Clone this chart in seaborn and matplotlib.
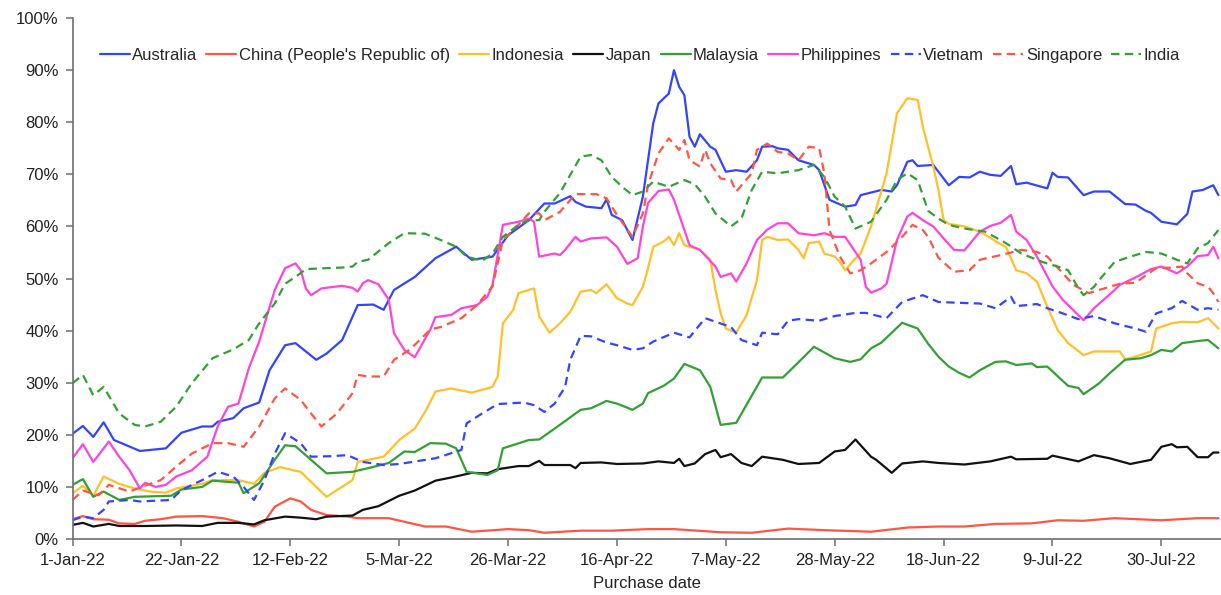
import matplotlib
matplotlib.use("Agg")
import matplotlib.pyplot as plt
import seaborn as sns
import pandas as pd
import numpy as np
from matplotlib.ticker import FuncFormatter

# ---------------- data (day offset from 1-Jan-22, share in %) ----------------
START = "2022-01-01"

australia = [(0,20.2),(2,21.7),(4,19.6),(6,22.4),(8,19.0),(13,16.9),(18,17.4),(21,20.4),(25,21.6),(27,21.6),
             (28,22.5),(31,23.2),(33,25.1),(36,26.2),(38,32.4),(41,37.2),(43,37.6),(47,34.4),(49,35.6),(52,38.2),
             (55,44.9),(58,45.0),(60,44.0),(62,47.8),(66,50.3),(70,53.9),(74,56.1),(77,53.6),(81,54.2),(84,58.3),
             (88,61.2),(91,64.4),(93,64.4),(96,65.8),(97,64.7),(99,63.8),(102,63.5),(103,65.2),(104,62.2),(106,61.2),
             (108,57.4),(110,65.7),(112,79.8),(113,83.6),(115,85.5),(116,90.0),(117,86.8),(118,85.2),(119,77.2),(120,75.3),
             (121,77.7),(123,75.3),(124,74.7),(126,70.5),(128,70.8),(130,70.5),(132,72.7),(133,75.3),(135,75.4),(136,75.0),
             (138,74.7),(140,72.7),(143,71.8),(144,70.8),(146,65.1),(149,63.8),(151,64.1),(152,66.0),(156,67.0),(158,66.7),
             (159,67.9),(161,72.4),(162,72.7),(163,71.6),(166,71.8),(169,67.9),(171,69.5),(173,69.4),(175,70.5),(177,69.9),
             (179,69.7),(181,71.6),(182,68.1),(184,68.4),(188,67.3),(189,70.3),(190,69.5),(192,69.4),(195,66.0),(197,66.7),
             (200,66.7),(203,64.3),(205,64.2),(207,63.0),(208,62.6),(210,60.9),(213,60.4),(215,62.4),(216,66.7),(218,67.0),
             (220,67.9),(221,66.0)]

china = [(0,3.8),(2,4.4),(4,3.8),(7,3.7),(9,3.0),(12,2.9),(14,3.5),(17,3.8),(20,4.3),(25,4.4),(29,4.0),(32,3.3),
         (35,2.4),(37,3.3),(39,6.2),(42,7.8),(44,7.2),(46,5.6),(49,4.6),(53,4.3),(55,4.0),(61,4.0),(68,2.4),(72,2.4),
         (77,1.4),(84,1.9),(88,1.7),(91,1.2),(98,1.6),(104,1.6),(111,1.9),(116,1.9),(125,1.3),(131,1.2),(138,2.0),
         (145,1.7),(154,1.4),(161,2.2),(167,2.4),(172,2.4),(178,2.9),(185,3.0),(190,3.6),(195,3.5),(201,4.0),(210,3.6),
         (217,4.0),(221,4.0)]

indonesia = [(0,8.8),(2,10.2),(4,8.3),(6,12.0),(9,10.6),(12,9.7),(15,9.1),(18,8.9),(20,9.7),(25,10.6),(27,11.3),
             (32,11.3),(35,10.6),(37,12.7),(40,13.8),(44,12.9),(47,10.0),(49,8.1),(51,9.4),(54,11.3),(55,14.8),(60,15.8),
             (63,19.0),(66,21.2),(68,24.4),(70,28.3),(73,28.9),(77,28.1),(81,29.2),(82,31.2),(83,41.4),(85,44.0),(86,47.2),
             (89,48.1),(90,42.7),(92,39.6),(94,41.4),(96,43.6),(98,47.5),(100,47.8),(101,47.2),(103,48.9),(105,46.2),
             (107,45.2),(108,44.9),(110,48.4),(111,52.0),(112,56.1),(114,57.1),(115,58.0),(116,56.4),(117,58.7),(118,56.4),
             (120,55.8),(121,55.5),(123,53.6),(124,47.8),(125,43.3),(126,40.4),(128,39.6),(130,43.0),(132,49.7),(133,57.4),
             (134,58.0),(136,57.4),(138,57.5),(140,55.5),(141,53.9),(142,56.8),(144,57.1),(145,54.8),(147,54.2),(148,53.2),
             (149,51.6),(151,53.9),(152,54.8),(154,60.0),(157,70.2),(159,81.7),(161,84.6),(163,84.3),(164,79.1),(166,71.5),
             (167,67.0),(168,61.2),(169,60.5),(172,60.0),(175,59.0),(179,56.6),(180,56.1),(182,51.6),(184,51.0),(186,49.4),
             (188,44.6),(190,40.1),(192,37.6),(195,35.3),(197,36.0),(200,36.0),(202,36.0),(203,34.5),(205,35.0),(208,36.0),
             (209,40.4),(212,41.4),(214,41.7),(217,41.6),(219,42.4),(221,40.4)]

japan = [(0,2.7),(2,3.1),(4,2.4),(7,2.9),(9,2.5),(14,2.5),(20,2.6),(25,2.5),(28,3.1),(32,3.1),(35,2.8),(37,3.6),
         (41,4.3),(44,4.1),(47,3.8),(49,4.3),(54,4.5),(56,5.6),(59,6.3),(63,8.3),(66,9.3),(70,11.2),(73,11.8),(77,12.7),
         (80,12.6),(82,13.4),(86,14.0),(88,14.0),(90,15.0),(91,14.2),(96,14.2),(97,13.6),(98,14.6),(102,14.7),(105,14.4),
         (110,14.5),(113,14.9),(116,14.6),(117,15.4),(118,14.0),(120,14.5),(122,16.3),(124,17.1),(125,15.7),(127,16.3),
         (129,14.6),(131,14.0),(133,15.8),(137,15.2),(140,14.4),(144,14.6),(147,16.8),(149,17.1),(151,19.1),(154,15.8),
         (155,15.2),(158,12.7),(160,14.5),(164,14.9),(167,14.6),(172,14.3),(177,14.9),(181,15.8),(182,15.3),(188,15.4),
         (189,16.0),(194,14.9),(197,16.1),(200,15.5),(204,14.4),(208,15.2),(210,17.7),(212,18.2),(213,17.6),(215,17.7),
         (217,15.7),(219,15.7),(220,16.6),(221,16.6)]

malaysia = [(0,10.4),(2,11.5),(4,8.1),(6,9.1),(9,7.5),(12,8.1),(19,8.3),(21,9.5),(25,10.0),(27,11.2),(32,10.8),
            (33,8.8),(36,10.7),(39,15.2),(41,18.0),(43,17.8),(46,15.2),(49,12.6),(54,12.9),(57,13.6),(61,14.6),(64,16.8),
            (66,16.7),(69,18.4),(72,18.3),(74,17.4),(76,12.9),(80,12.3),(82,13.2),(83,17.4),(88,19.0),(90,19.1),(93,21.2),
            (98,24.8),(100,25.1),(103,26.5),(105,26.0),(108,24.8),(110,26.0),(111,28.0),(114,29.4),(116,30.8),(118,33.6),
            (121,32.4),(123,29.2),(125,21.9),(128,22.3),(133,31.0),(137,31.0),(141,34.9),(143,36.9),(147,34.7),(150,34.0),
            (152,34.5),(154,36.6),(156,37.7),(160,41.5),(163,40.4),(165,37.5),(167,35.0),(169,33.1),(171,31.9),(173,31.0),
            (175,32.4),(178,34.0),(180,34.1),(182,33.4),(185,33.7),(186,33.0),(188,33.1),(192,29.4),(194,29.0),(195,27.8),
            (198,29.9),(200,31.8),(203,34.4),(206,34.7),(208,35.3),(210,36.3),(212,36.0),(214,37.6),(217,38.0),(219,38.2),
            (221,36.6)]

philippines = [(0,15.5),(2,18.2),(4,14.8),(7,18.7),(9,15.8),(11,13.2),(13,9.7),(14,10.8),(16,10.0),(18,10.4),(20,12.0),
               (23,13.2),(26,15.8),(28,21.6),(30,25.4),(32,26.0),(34,32.8),(36,37.9),(39,47.8),(41,52.0),(43,52.9),(44,51.6),
               (45,48.1),(46,46.8),(48,48.1),(52,48.6),(54,48.2),(55,47.5),(56,49.1),(57,49.7),(59,48.9),(61,45.9),(62,39.5),
               (64,36.3),(66,34.9),(69,40.2),(70,42.6),(73,43.0),(75,44.3),(78,44.9),(80,46.5),(81,48.8),(83,60.3),(86,60.9),
               (88,61.5),(89,60.9),(90,54.2),(93,54.8),(94,54.5),(95,55.5),(97,58.0),(98,57.1),(100,57.7),(103,57.9),
               (105,56.1),(107,52.8),(109,53.9),(110,60.0),(111,64.5),(113,66.8),(115,67.1),(116,65.1),(118,59.3),(119,56.4),
               (121,55.5),(124,52.3),(125,50.3),(127,51.0),(128,49.4),(130,52.9),(132,57.4),(134,59.4),(136,60.6),(138,60.6),
               (140,58.7),(143,58.3),(145,58.7),(147,58.0),(149,58.0),(152,53.6),(153,48.4),(154,47.3),(156,48.1),(157,49.0),
               (159,57.4),(161,61.9),(162,62.6),(164,61.2),(166,60.0),(168,57.7),(170,55.5),(172,55.4),(175,59.0),(177,60.1),
               (179,60.7),(181,62.2),(182,59.0),(184,57.4),(186,54.2),(189,48.5),(191,45.9),(195,42.0),(197,44.3),(201,47.8),
               (202,48.8),(205,50.2),(208,51.8),(210,52.3),(213,51.0),(215,52.3),(217,54.3),(219,54.5),(220,56.1),(221,53.9)]

vietnam = [(0,3.6),(2,4.3),(4,4.0),(6,5.6),(7,7.2),(11,7.5),(13,7.2),(19,7.5),(21,9.4),(25,11.3),(28,12.9),(31,12.0),
           (33,10.0),(35,7.5),(37,11.3),(39,16.4),(41,20.3),(44,18.4),(46,15.8),(50,15.9),(53,16.1),(56,14.8),(60,14.2),
           (63,14.4),(70,15.5),(75,17.1),(76,22.2),(79,24.1),(82,25.9),(87,26.2),(89,25.7),(91,24.4),(93,26.0),(95,29.2),
           (96,34.4),(98,39.0),(100,38.9),(103,37.7),(105,37.2),(108,36.3),(110,36.6),(112,37.9),(116,39.6),(119,38.7),
           (122,42.4),(124,41.7),(127,40.7),(129,38.2),(132,37.2),(133,39.6),(136,39.3),(138,41.9),(140,42.2),(144,41.9),
           (147,42.8),(151,43.4),(153,43.4),(157,42.4),(160,45.5),(164,46.8),(167,45.5),(172,45.3),(175,45.2),(178,44.3),
           (181,46.5),(182,44.7),(186,45.1),(188,44.3),(191,43.3),(194,42.2),(197,42.8),(201,41.4),(205,40.4),(207,39.8),
           (209,43.3),(212,44.3),(214,45.7),(217,44.0),(219,44.3),(221,44.0)]

singapore = [(0,7.5),(2,9.3),(5,8.4),(7,10.4),(11,9.1),(13,9.9),(17,11.3),(20,13.9),(23,16.4),(27,18.4),(30,18.4),
             (33,17.7),(36,21.6),(39,27.0),(41,28.9),(44,26.7),(46,24.1),(48,21.6),(51,24.1),(54,28.0),(55,31.5),(57,31.2),
             (60,31.2),(62,34.4),(65,36.3),(69,40.2),(71,40.7),(75,42.4),(78,44.9),(81,48.5),(83,57.4),(86,60.3),(88,62.5),
             (90,62.5),(91,61.2),(94,62.8),(97,66.2),(101,66.2),(103,65.4),(105,62.2),(108,58.0),(110,62.5),(111,68.0),
             (113,74.0),(115,76.9),(117,74.7),(118,76.6),(119,72.7),(121,71.5),(122,74.7),(123,72.1),(125,69.2),(127,68.9),
             (128,66.7),(131,70.2),(132,74.7),(134,75.9),(136,74.3),(138,74.0),(140,72.7),(142,75.3),(144,75.0),(145,70.2),
             (146,59.3),(148,54.2),(150,51.0),(152,51.6),(154,52.9),(157,55.1),(160,58.0),(162,60.3),(164,59.3),(165,58.0),
             (167,54.0),(170,51.3),(173,51.6),(175,53.6),(179,54.5),(183,55.5),(186,55.1),(188,54.2),(191,51.0),(193,48.8),
             (196,47.2),(199,48.1),(202,49.0),(205,49.2),(209,52.0),(212,52.1),(214,52.3),(215,51.0),(217,49.1),(219,48.4),
             (220,47.2),(221,45.5)]

india = [(0,29.9),(2,31.5),(4,27.6),(6,29.2),(9,24.1),(12,21.9),(14,21.6),(17,22.5),(20,25.4),(23,29.9),(27,34.7),
         (31,36.4),(34,38.2),(36,41.4),(39,45.2),(41,49.0),(43,50.3),(45,51.8),(49,52.0),(52,52.1),(54,52.3),(55,53.2),
         (57,53.6),(61,56.8),(64,58.7),(68,58.6),(71,57.4),(74,56.1),(76,54.2),(79,53.4),(81,54.8),(83,58.0),(86,60.3),
         (88,61.2),(90,61.2),(91,62.8),(94,66.4),(96,69.9),(98,73.4),(100,73.7),(102,72.7),(104,69.5),(106,67.6),
         (108,66.0),(110,66.7),(112,68.6),(115,67.6),(118,68.9),(120,68.1),(122,65.7),(124,62.5),(127,60.0),(129,61.5),
         (131,67.0),(133,70.5),(136,70.2),(140,70.8),(143,71.8),(145,69.5),(147,65.7),(149,63.8),(151,59.6),(154,60.9),
         (157,65.1),(159,68.9),(161,70.2),(163,68.9),(165,63.0),(167,61.5),(169,60.3),(172,59.6),(176,59.0),(180,56.8),
         (183,54.8),(187,53.2),(190,52.3),(192,51.6),(194,48.1),(195,46.8),(197,48.4),(198,49.7),(201,53.2),(204,54.2),
         (207,55.1),(210,54.8),(213,53.6),(215,52.9),(217,55.8),(219,56.8),(221,59.3)]

series_labels = ["Australia", "China (People's Republic of)", "Indonesia", "Japan", "Malaysia",
                 "Philippines", "Vietnam", "Singapore", "India"]
series_data = [australia, china, indonesia, japan, malaysia, philippines, vietnam, singapore, india]
series_colors = ["#3344FF", "#FF5544", "#FFC02A", "#111111", "#33A033",
                 "#FF44D8", "#3344FF", "#FF5544", "#33A033"]
series_dashed = [False, False, False, False, False, False, True, True, True]

x_tick_step_days = 21
x_tick_count = 11
y_ticks = list(range(0, 101, 10))
x_label = "Purchase date"

# ---------------- plot ----------------
sns.set_theme(style="white")
plt.rcParams["font.family"] = ["Liberation Sans", "DejaVu Sans"]

fig = plt.figure(figsize=(12.21, 5.95), dpi=100)
ax = fig.add_axes([0.0594, 0.0941, 0.9406, 0.8756])

start = pd.Timestamp(START)
for label, pts, color, dashed in zip(series_labels, series_data, series_colors, series_dashed):
    days = np.array([p[0] for p in pts], dtype=float)
    vals = np.array([p[1] for p in pts], dtype=float)
    dates = start + pd.to_timedelta(days, unit="D")
    ls = (0, (3.8, 2.4)) if dashed else "-"
    sns.lineplot(x=dates, y=vals, ax=ax, color=color, linewidth=1.6, linestyle=ls,
                 label=label, legend=False)

ax.set_xlim(start, start + pd.Timedelta(days=221.5))
ax.set_ylim(0, 100)
ticks = [start + pd.Timedelta(days=x_tick_step_days * k) for k in range(x_tick_count)]
ax.set_xticks(ticks)
ax.set_xticklabels([f"{t.day}-{t.strftime('%b-%y')}" for t in ticks])
ax.set_yticks(y_ticks)
ax.yaxis.set_major_formatter(FuncFormatter(lambda v, p: f"{v:.0f}%"))

for s in ["top", "right"]:
    ax.spines[s].set_visible(False)
for s in ["left", "bottom"]:
    ax.spines[s].set_color("#6E6E6E")
    ax.spines[s].set_linewidth(1.2)

ax.tick_params(axis="both", which="both", bottom=True, left=True, direction="out",
               length=5, width=1.1, color="#6E6E6E", labelsize=12, labelcolor="#222222", pad=5)
ax.set_xlabel(x_label, fontsize=12, color="#222222", labelpad=6)
ax.set_ylabel("")
ax.grid(False)

ax.legend(loc="center", bbox_to_anchor=(0.494, 0.929), ncol=9, frameon=False, fontsize=12,
          handlelength=1.8, handletextpad=0.15, columnspacing=0.55, borderaxespad=0)

fig.savefig("out.png", dpi=100)
